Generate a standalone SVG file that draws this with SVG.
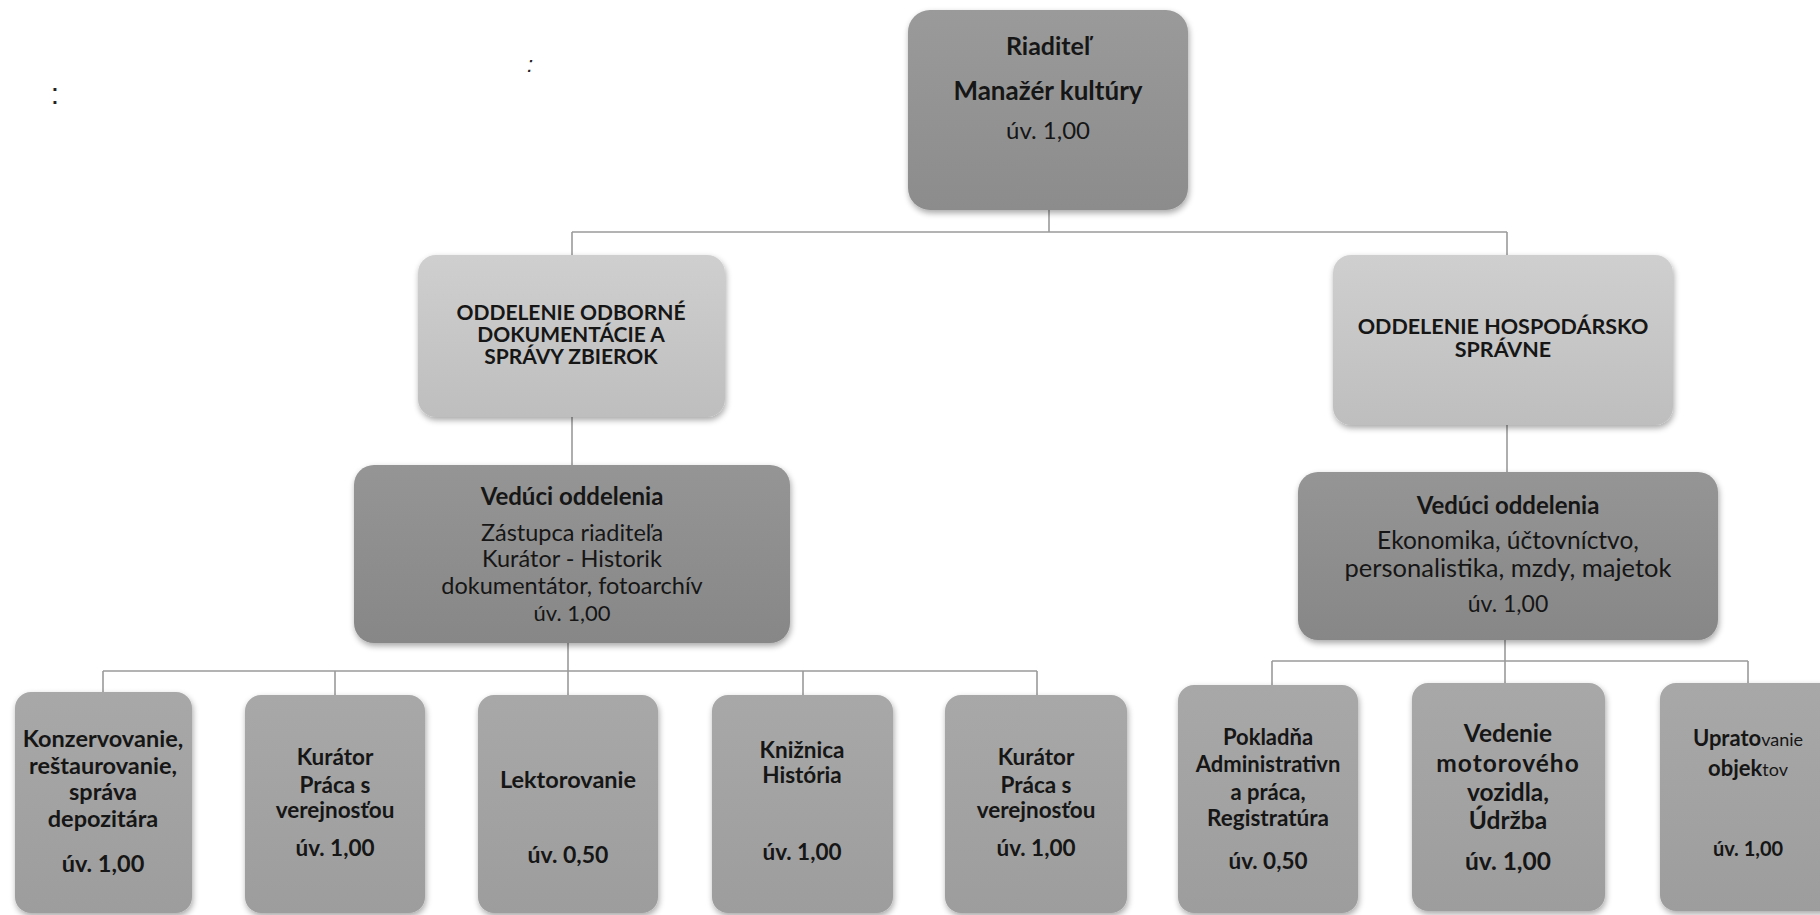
<svg xmlns="http://www.w3.org/2000/svg" width="1820" height="915" viewBox="0 0 1820 915">
<style>
  text { font-family: Lato, "Liberation Sans", sans-serif; fill: #161616; text-anchor: middle; }
  .b { font-weight: bold; }
  .r { font-weight: normal; }
  .conn line { stroke: #9a9a9a; stroke-width: 1.6; }
  .top { fill: url(#gTop); }
  .dept { fill: url(#gDept); }
  .head { fill: url(#gHead); }
  .leaf { fill: url(#gLeaf); }
  .box { filter: url(#sh); }
  .noise { font-family: "Liberation Sans", sans-serif; fill: #222; }
</style>
<defs>
  <filter id="sh" x="-10%" y="-10%" width="120%" height="125%">
    <feGaussianBlur in="SourceAlpha" stdDeviation="3"/>
    <feOffset dx="1" dy="3" result="o"/>
    <feComponentTransfer><feFuncA type="linear" slope="0.35"/></feComponentTransfer>
    <feMerge><feMergeNode/><feMergeNode in="SourceGraphic"/></feMerge>
  </filter>
  <linearGradient id="gTop" x1="0" y1="0" x2="0" y2="1">
    <stop offset="0" stop-color="#9a9a9a"/><stop offset="1" stop-color="#8c8c8c"/>
  </linearGradient>
  <linearGradient id="gDept" x1="0" y1="0" x2="0" y2="1">
    <stop offset="0" stop-color="#cfcfcf"/><stop offset="1" stop-color="#bebebe"/>
  </linearGradient>
  <linearGradient id="gHead" x1="0" y1="0" x2="0" y2="1">
    <stop offset="0" stop-color="#959595"/><stop offset="1" stop-color="#878787"/>
  </linearGradient>
  <linearGradient id="gLeaf" x1="0" y1="0" x2="0" y2="1">
    <stop offset="0" stop-color="#a8a8a8"/><stop offset="1" stop-color="#9d9d9d"/>
  </linearGradient>
</defs>
<rect width="1820" height="915" fill="#ffffff"/>

<g id="noise">
  <text class="noise" x="55" y="104" font-size="30">:</text>
  <text class="noise" x="530" y="72" font-size="22" font-style="italic">:</text>
</g>

<g id="connectors" class="conn">
  <line x1="1049" y1="210" x2="1049" y2="232"/>
  <line x1="572" y1="232" x2="1507" y2="232"/>
  <line x1="572" y1="232" x2="572" y2="255"/>
  <line x1="1507" y1="232" x2="1507" y2="255"/>
  <line x1="572" y1="417" x2="572" y2="465"/>
  <line x1="1507" y1="425" x2="1507" y2="472"/>
  <line x1="568" y1="643" x2="568" y2="671"/>
  <line x1="103" y1="671" x2="1037" y2="671"/>
  <line x1="103" y1="671" x2="103" y2="692"/>
  <line x1="335" y1="671" x2="335" y2="695"/>
  <line x1="568" y1="671" x2="568" y2="695"/>
  <line x1="803" y1="671" x2="803" y2="695"/>
  <line x1="1037" y1="671" x2="1037" y2="695"/>
  <line x1="1505" y1="640" x2="1505" y2="661"/>
  <line x1="1272" y1="661" x2="1748" y2="661"/>
  <line x1="1272" y1="661" x2="1272" y2="685"/>
  <line x1="1505" y1="661" x2="1505" y2="683"/>
  <line x1="1748" y1="661" x2="1748" y2="683"/>
</g>

<g id="riaditel">
  <rect class="box top" x="908" y="10" width="280" height="200" rx="22"/>
  <text class="b" x="1048" y="55" font-size="25">Riaditeľ</text>
  <text class="b" x="1048" y="100" font-size="26">Manažér kultúry</text>
  <text class="r" x="1048" y="139" font-size="24">úv. 1,00</text>
</g>

<g id="dept-odborne">
  <rect class="box dept" x="418" y="255" width="307" height="162" rx="18"/>
  <text class="b" x="571" y="320" font-size="21">ODDELENIE ODBORNÉ</text>
  <text class="b" x="571" y="342" font-size="21">DOKUMENTÁCIE A</text>
  <text class="b" x="571" y="364" font-size="21">SPRÁVY ZBIEROK</text>
</g>

<g id="dept-hospodarske">
  <rect class="box dept" x="1333" y="255" width="340" height="170" rx="18"/>
  <text class="b" x="1503" y="334" font-size="21.5">ODDELENIE HOSPODÁRSKO</text>
  <text class="b" x="1503" y="357" font-size="21.5">SPRÁVNE</text>
</g>

<g id="veduci-left">
  <rect class="box head" x="354" y="465" width="436" height="178" rx="20"/>
  <text class="b" x="572" y="505" font-size="24">Vedúci oddelenia</text>
  <text class="r" x="572" y="541" font-size="23.5">Zástupca riaditeľa</text>
  <text class="r" x="572" y="567" font-size="23.5">Kurátor - Historik</text>
  <text class="r" x="572" y="594" font-size="23.5">dokumentátor, fotoarchív</text>
  <text class="r" x="572" y="621" font-size="22">úv. 1,00</text>
</g>

<g id="veduci-right">
  <rect class="box head" x="1298" y="472" width="420" height="168" rx="20"/>
  <text class="b" x="1508" y="514" font-size="24">Vedúci oddelenia</text>
  <text class="r" x="1508" y="549" font-size="24.5">Ekonomika, účtovníctvo,</text>
  <text class="r" x="1508" y="577" font-size="25.5">personalistika, mzdy, majetok</text>
  <text class="r" x="1508" y="612" font-size="23">úv. 1,00</text>
</g>

<g id="konzervovanie">
  <rect class="box leaf" x="15" y="692" width="177" height="221" rx="16"/>
  <text class="b" x="103" y="747" font-size="23.5">Konzervovanie,</text>
  <text class="b" x="103" y="774" font-size="23.5">reštaurovanie,</text>
  <text class="b" x="103" y="800" font-size="23.5">správa</text>
  <text class="b" x="103" y="827" font-size="23.5">depozitára</text>
  <text class="b" x="103" y="872" font-size="23.5">úv. 1,00</text>
</g>

<g id="kurator-1">
  <rect class="box leaf" x="245" y="695" width="180" height="218" rx="16"/>
  <text class="b" x="335" y="765" font-size="22.5">Kurátor</text>
  <text class="b" x="335" y="793" font-size="22.5">Práca s</text>
  <text class="b" x="335" y="818" font-size="22.5">verejnosťou</text>
  <text class="b" x="335" y="856" font-size="22.5">úv. 1,00</text>
</g>

<g id="lektorovanie">
  <rect class="box leaf" x="478" y="695" width="180" height="218" rx="16"/>
  <text class="b" x="568" y="788" font-size="23.5">Lektorovanie</text>
  <text class="b" x="568" y="863" font-size="23">úv. 0,50</text>
</g>

<g id="kniznica">
  <rect class="box leaf" x="712" y="695" width="181" height="218" rx="16"/>
  <text class="b" x="802" y="758" font-size="22.5">Knižnica</text>
  <text class="b" x="802" y="783" font-size="22.5">História</text>
  <text class="b" x="802" y="860" font-size="22.5">úv. 1,00</text>
</g>

<g id="kurator-2">
  <rect class="box leaf" x="945" y="695" width="182" height="218" rx="16"/>
  <text class="b" x="1036" y="765" font-size="22.5">Kurátor</text>
  <text class="b" x="1036" y="793" font-size="22.5">Práca s</text>
  <text class="b" x="1036" y="818" font-size="22.5">verejnosťou</text>
  <text class="b" x="1036" y="856" font-size="22.5">úv. 1,00</text>
</g>

<g id="pokladna">
  <rect class="box leaf" x="1178" y="685" width="180" height="228" rx="16"/>
  <text class="b" x="1268" y="745" font-size="22">Pokladňa</text>
  <text class="b" x="1268" y="772" font-size="22">Administrativn</text>
  <text class="b" x="1268" y="800" font-size="22">a práca,</text>
  <text class="b" x="1268" y="826" font-size="22.5">Registratúra</text>
  <text class="b" x="1268" y="869" font-size="22.5">úv. 0,50</text>
</g>

<g id="vedenie">
  <rect class="box leaf" x="1412" y="683" width="193" height="228" rx="16"/>
  <text class="b" x="1508" y="742" font-size="24.5">Vedenie</text>
  <text class="b" x="1508" y="772" font-size="24.5" letter-spacing="1">motorového</text>
  <text class="b" x="1508" y="801" font-size="24.5">vozidla,</text>
  <text class="b" x="1508" y="829" font-size="24.5">Údržba</text>
  <text class="b" x="1508" y="870" font-size="24.5">úv. 1,00</text>
</g>

<g id="upratovanie">
  <rect class="box leaf" x="1660" y="683" width="178" height="228" rx="16"/>
  <text class="b" x="1748" y="746" font-size="22">Uprato<tspan font-weight="normal" font-size="18">vanie</tspan></text>
  <text class="b" x="1748" y="776" font-size="22">objek<tspan font-weight="normal" font-size="18">tov</tspan></text>
  <text class="b" x="1748" y="856" font-size="20">úv. 1,00</text>
</g>
</svg>
